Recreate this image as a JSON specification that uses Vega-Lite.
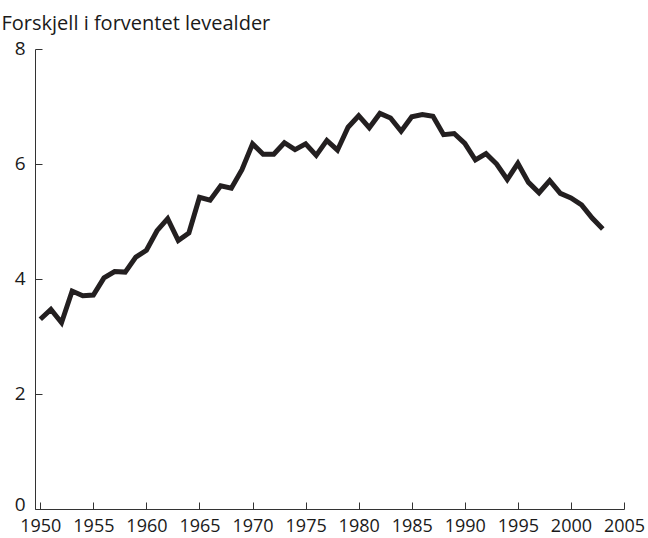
{
  "$schema": "https://vega.github.io/schema/vega-lite/v6.json",
  "width": 589,
  "height": 460,
  "autosize": {"type": "none"},
  "padding": {"left": 35, "top": 49, "right": 24, "bottom": 29},
  "config": {"view": {"stroke": null}, "font": "Open Sans", "background": "white"},
  "data": {"values": [
    {"year": 1950, "value": 3.30}, {"year": 1951, "value": 3.47}, {"year": 1952, "value": 3.24},
    {"year": 1953, "value": 3.79}, {"year": 1954, "value": 3.71}, {"year": 1955, "value": 3.72},
    {"year": 1956, "value": 4.02}, {"year": 1957, "value": 4.13}, {"year": 1958, "value": 4.12},
    {"year": 1959, "value": 4.38}, {"year": 1960, "value": 4.50}, {"year": 1961, "value": 4.84},
    {"year": 1962, "value": 5.05}, {"year": 1963, "value": 4.67}, {"year": 1964, "value": 4.80},
    {"year": 1965, "value": 5.42}, {"year": 1966, "value": 5.37}, {"year": 1967, "value": 5.62},
    {"year": 1968, "value": 5.58}, {"year": 1969, "value": 5.90}, {"year": 1970, "value": 6.35},
    {"year": 1971, "value": 6.17}, {"year": 1972, "value": 6.17}, {"year": 1973, "value": 6.37},
    {"year": 1974, "value": 6.25}, {"year": 1975, "value": 6.35}, {"year": 1976, "value": 6.15},
    {"year": 1977, "value": 6.41}, {"year": 1978, "value": 6.24}, {"year": 1979, "value": 6.64},
    {"year": 1980, "value": 6.84}, {"year": 1981, "value": 6.63}, {"year": 1982, "value": 6.88},
    {"year": 1983, "value": 6.80}, {"year": 1984, "value": 6.57}, {"year": 1985, "value": 6.82},
    {"year": 1986, "value": 6.86}, {"year": 1987, "value": 6.83}, {"year": 1988, "value": 6.51},
    {"year": 1989, "value": 6.53}, {"year": 1990, "value": 6.36}, {"year": 1991, "value": 6.07},
    {"year": 1992, "value": 6.18}, {"year": 1993, "value": 6.00}, {"year": 1994, "value": 5.73},
    {"year": 1995, "value": 6.01}, {"year": 1996, "value": 5.68}, {"year": 1997, "value": 5.50},
    {"year": 1998, "value": 5.71}, {"year": 1999, "value": 5.49}, {"year": 2000, "value": 5.41},
    {"year": 2001, "value": 5.29}, {"year": 2002, "value": 5.06}, {"year": 2003, "value": 4.87}
  ]},
  "mark": {"type": "line", "color": "#231f20", "strokeWidth": 5, "strokeJoin": "miter", "strokeCap": "butt"},
  "encoding": {
    "x": {
      "field": "year", "type": "quantitative",
      "scale": {"domain": [1949.5, 2005], "nice": false, "zero": false},
      "axis": {
        "values": [1950, 1955, 1960, 1965, 1970, 1975, 1980, 1985, 1990, 1995, 2000, 2005],
        "format": "d", "title": null, "grid": false,
        "tickSize": -7, "labelPadding": 15, "labelFontSize": 18, "labelColor": "#1a1a1a",
        "labelFlush": false, "labelOverlap": false,
        "domainColor": "#333333", "tickColor": "#333333", "domainWidth": 1, "tickWidth": 1
      }
    },
    "y": {
      "field": "value", "type": "quantitative",
      "scale": {"domain": [0, 8], "nice": false},
      "axis": {
        "values": [0, 2, 4, 6, 8], "grid": false,
        "title": "Forskjell i forventet levealder",
        "titleAngle": 0, "titleAlign": "left", "titleBaseline": "alphabetic",
        "titleX": -34, "titleY": -20, "titleFontSize": 20, "titleFontWeight": "normal", "titleColor": "#1a1a1a",
        "tickSize": -7, "labelPadding": 17, "labelFontSize": 19, "labelColor": "#1a1a1a",
        "labelOffset": {"condition": {"test": "datum.value === 0", "value": -5}, "value": -1},
        "labelFlush": false, "labelOverlap": false,
        "domainColor": "#333333", "tickColor": "#333333", "domainWidth": 1, "tickWidth": 1
      }
    }
  }
}
